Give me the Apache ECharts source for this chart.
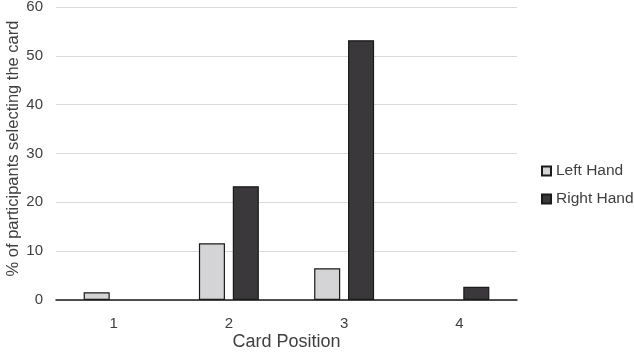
<!DOCTYPE html>
<html><head><meta charset="utf-8">
<script src="https://cdn.jsdelivr.net/npm/echarts@6/dist/echarts.min.js"></script>
<style>html,body{margin:0;padding:0;background:#fff}#c{width:634px;height:355px}</style>
</head><body><div id="c"></div>
<script>
const categories = ['1', '2', '3', '4'];
const leftHand = [1.6, 11.6, 6.5, 0];
const rightHand = [0, 23.3, 53.2, 2.7];
const seriesNames = ['Left Hand', 'Right Hand'];

const font = 'Liberation Sans, Arial, sans-serif';
const toItems = arr => arr.map(v => v === 0 ? { value: v, itemStyle: { borderWidth: 0 } } : v);
const chart = echarts.init(document.getElementById('c'));
chart.setOption({
  animation: false,
  textStyle: { fontFamily: font },
  grid: { left: 56, right: 117, top: 7, bottom: 55, containLabel: false, outerBoundsMode: 'none' },
  legend: {
    orient: 'vertical', left: 536, top: 158,
    itemWidth: 9, itemHeight: 9, itemGap: 12, icon: 'rect',
    textStyle: { fontSize: 15.5, color: '#404040', fontFamily: font },
    data: seriesNames
  },
  xAxis: {
    type: 'category', data: categories,
    name: 'Card Position', nameLocation: 'middle', nameGap: 42, nameMoveOverlap: false,
    nameTextStyle: { fontSize: 18, color: '#404040', verticalAlign: 'middle' },
    axisLine: { lineStyle: { color: '#1a1a1a', width: 1.5 } },
    axisTick: { show: false },
    axisLabel: { fontSize: 15, color: '#404040', margin: 16 }
  },
  yAxis: {
    type: 'value', min: 0, max: 60, interval: 10,
    name: '% of participants selecting the card', nameLocation: 'middle', nameGap: 43, nameMoveOverlap: false,
    nameTextStyle: { fontSize: 16.5, color: '#404040', verticalAlign: 'middle', padding: [0, 0, 0, 10] },
    axisLine: { show: false }, axisTick: { show: false },
    axisLabel: { fontSize: 15, color: '#404040', margin: 13 },
    splitLine: { lineStyle: { color: '#d9d9d9', width: 1 } }
  },
  series: [
    { name: seriesNames[0], type: 'bar', data: toItems(leftHand), barGap: '30%', barCategoryGap: '48%',
      itemStyle: { color: '#d4d4d6', borderColor: '#1a1a1a', borderWidth: 1.2 } },
    { name: seriesNames[1], type: 'bar', data: toItems(rightHand),
      itemStyle: { color: '#3a383b', borderColor: '#1a1a1a', borderWidth: 1.2 } }
  ]
});
</script></body></html>
